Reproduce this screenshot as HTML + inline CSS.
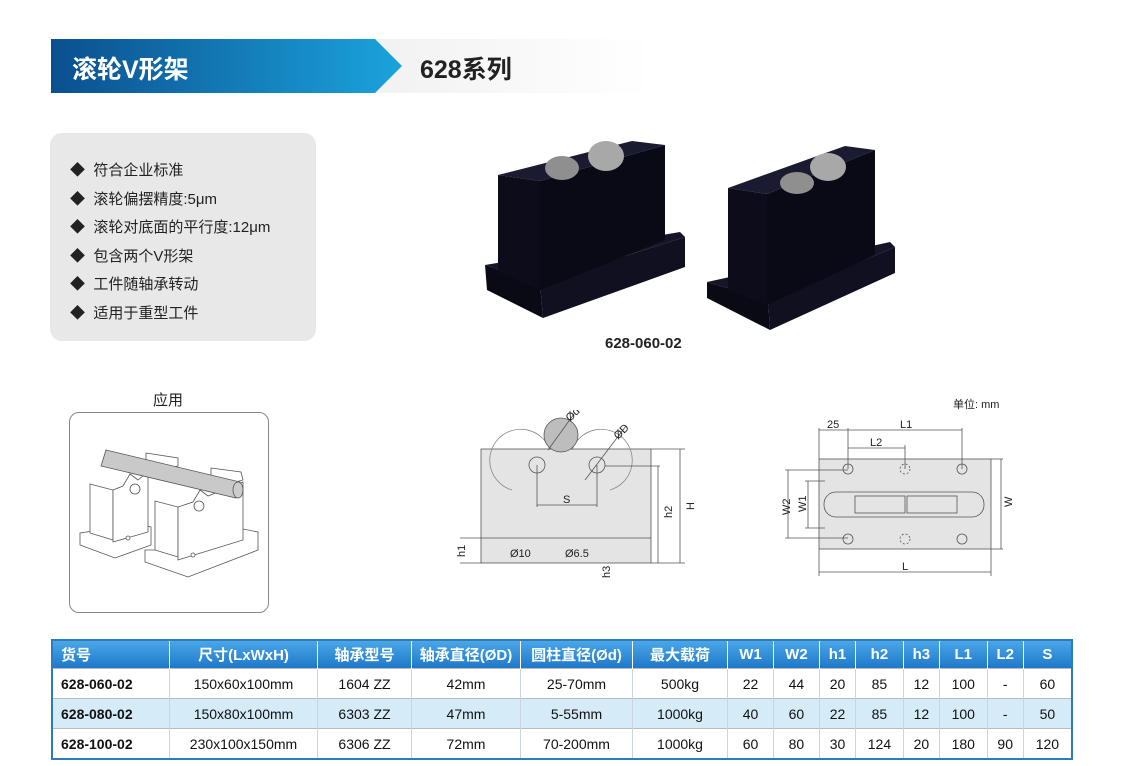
<!DOCTYPE html>
<html><head><meta charset="utf-8"><style>
body{margin:0;width:1130px;height:766px;background:#fff;position:relative;overflow:hidden;font-family:"Liberation Sans","Noto Sans CJK SC",sans-serif;}
.abs{position:absolute}
table{border-collapse:collapse;position:absolute;left:51px;top:639px;width:1022px;font-size:14px;border:2px solid #2a7bc0}
td{height:29px;text-align:center;border-left:1px solid #c9d6e2;padding:0;color:#111}
tr.h td{background:linear-gradient(#4aa7e8,#1f78c9);color:#fff;font-weight:bold;font-size:15px;height:27px;border-left:1px solid #fff}
tr.b td{background:#d5ebf8}
td.k{font-weight:bold;text-align:left;padding-left:8px}
tr+tr td{border-top:1px solid #bbb}
</style></head><body>
<div class="abs" style="left:51px;top:39px;width:600px;height:54px;background:linear-gradient(90deg,#e6e6e6,#f3f3f3 60%,#fff)"></div>
<svg class="abs" style="left:51px;top:39px" width="360" height="54"><defs><linearGradient id="g" x1="0" x2="1"><stop offset="0" stop-color="#0b4f8e"/><stop offset="1" stop-color="#1ba3dc"/></linearGradient></defs><polygon points="0,0 324,0 351,27 324,54 0,54" fill="url(#g)"/></svg>
<div class="abs" style="left:72px;top:50px;color:#fff;font-size:25px;font-weight:bold">滚轮V形架</div>
<div class="abs" style="left:420px;top:50px;color:#222;font-size:25px;font-weight:bold">628系列</div>

<div class="abs" style="left:50px;top:133px;width:266px;height:208px;background:#e8e8e8;border-radius:12px"></div>
<div class="abs" style="left:70px;top:157px;font-size:15px;line-height:28.5px;color:#222">
◆&nbsp; 符合企业标准<br>◆&nbsp; 滚轮偏摆精度:5μm<br>◆&nbsp; 滚轮对底面的平行度:12μm<br>◆&nbsp; 包含两个V形架<br>◆&nbsp; 工件随轴承转动<br>◆&nbsp; 适用于重型工件</div>

<svg class="abs" style="left:0;top:0" width="1130" height="360">
<g>
<polygon points="485,265 540,283 685,237 680,232" fill="#15152a"/>
<polygon points="485,265 540,283 543,318 487,290" fill="#0a0a14"/>
<polygon points="540,283 685,237 685,267 543,318" fill="#101020"/>
<polygon points="498,175 540,181 665,145 632,141" fill="#1a1a30"/>
<polygon points="498,175 540,181 540,290 498,272" fill="#0c0c1a"/>
<polygon points="540,181 665,145 665,240 540,290" fill="#0a0a16"/>
<polygon points="707,282 768,300 895,247 890,242" fill="#15152a"/>
<polygon points="707,282 768,300 770,330 707,298" fill="#0a0a14"/>
<polygon points="768,300 895,247 895,273 770,330" fill="#101020"/>
<polygon points="728,188 767,194 875,150 845,146" fill="#1a1a30"/>
<polygon points="728,188 767,194 767,305 728,290" fill="#0c0c1a"/>
<polygon points="767,194 875,150 875,255 767,305" fill="#0a0a16"/>
</g>
<ellipse cx="562" cy="168" rx="17" ry="12" fill="#8f8f8f"/><ellipse cx="606" cy="156" rx="18" ry="15" fill="#a8a8a8"/>
<ellipse cx="797" cy="183" rx="17" ry="11" fill="#8f8f8f"/><ellipse cx="828" cy="167" rx="18" ry="14" fill="#a8a8a8"/>
</svg>
<div class="abs" style="left:605px;top:335px;font-size:15px;font-weight:bold;color:#222">628-060-02</div>

<div class="abs" style="left:153px;top:389px;font-size:15px;color:#222">应用</div>
<div class="abs" style="left:69px;top:412px;width:198px;height:199px;border:1px solid #888;border-radius:10px"></div>
<svg class="abs" style="left:68px;top:410px" width="202" height="204" fill="#fff" stroke="#555" stroke-width="0.8">
<polygon points="78,43 110,48 110,56 95,60 78,52"/>
<polygon points="143,58 173,62 175,70 160,74 143,66"/>
<polygon points="12,123 12,135 47,148 83,135 83,117 60,112 45,118"/>
<polygon points="22,74 45,80 45,130 22,123"/>
<polygon points="45,80 55,76 62,64 70,70 80,62 80,122 45,132"/>
<polygon points="77,140 77,152 120,167 190,140 190,122 170,118 110,140"/>
<polygon points="87,91 110,97 110,147 87,140"/>
<polygon points="110,97 125,92 132,80 140,86 175,72 175,130 110,150"/>
<circle cx="67" cy="79" r="5"/><circle cx="131" cy="96" r="5"/>
<circle cx="60" cy="128" r="2"/><circle cx="125" cy="145" r="2"/>
<path d="M38,40 L172,72 L168,88 L33,56 Z" fill="#c9c9c9" stroke="#555"/>
<ellipse cx="170" cy="80" rx="5" ry="8" fill="#ccc"/>
</svg>

<div class="abs" style="left:953px;top:396px;font-size:11px;color:#222">单位: mm</div>
<svg class="abs" style="left:450px;top:410px" width="600" height="175" font-family="Liberation Sans" font-size="11" fill="#222">
<g stroke="#555" stroke-width="0.8" fill="none">
<rect x="31" y="39" width="170" height="114" fill="#e4e4e4"/>
<line x1="31" y1="128" x2="201" y2="128"/>
<path d="M62,80 A31,31 0 1 1 100,40" stroke="#888"/>
<path d="M122,40 A31,31 0 1 1 160,80" stroke="#888"/>
<circle cx="87" cy="55" r="8"/><circle cx="147" cy="55" r="8"/>
<circle cx="111" cy="25" r="17" fill="#bdbdbd"/>
<line x1="87" y1="55" x2="87" y2="97"/><line x1="147" y1="55" x2="147" y2="97"/><line x1="87" y1="95" x2="147" y2="95"/>
<line x1="155" y1="56" x2="210" y2="56"/><line x1="201" y1="39" x2="235" y2="39"/><line x1="201" y1="153" x2="235" y2="153"/>
<line x1="208" y1="56" x2="208" y2="153"/><line x1="230" y1="39" x2="230" y2="153"/>
<line x1="98" y1="40" x2="124" y2="4"/><line x1="135" y1="70" x2="176" y2="16"/>
<line x1="10" y1="128" x2="31" y2="128"/><line x1="10" y1="153" x2="31" y2="153"/>
</g>
<text x="120" y="12" transform="rotate(-45 120 12)">Ød</text><text x="168" y="30" transform="rotate(-45 168 30)">ØD</text>
<text x="113" y="93">S</text><text x="222" y="108" transform="rotate(-90 222 108)">h2</text><text x="244" y="100" transform="rotate(-90 244 100)">H</text>
<text x="60" y="147">Ø10</text><text x="115" y="147">Ø6.5</text><text x="15" y="147" transform="rotate(-90 15 147)">h1</text><text x="160" y="168" transform="rotate(-90 160 168)">h3</text>
<g stroke="#555" stroke-width="0.8" fill="none">
<rect x="369" y="49" width="172" height="90" fill="#e4e4e4"/>
<circle cx="398" cy="59" r="5"/><circle cx="455" cy="59" r="5" stroke-dasharray="2 2"/><circle cx="512" cy="59" r="5"/>
<circle cx="398" cy="129" r="5"/><circle cx="455" cy="129" r="5" stroke-dasharray="2 2"/><circle cx="512" cy="129" r="5"/>
<rect x="374" y="82" width="160" height="25" rx="12"/>
<rect x="405" y="86" width="50" height="17"/><rect x="457" y="86" width="50" height="17"/>
<line x1="369" y1="18" x2="369" y2="49"/><line x1="398" y1="18" x2="398" y2="59"/><line x1="512" y1="18" x2="512" y2="59"/><line x1="455" y1="35" x2="455" y2="59"/>
<line x1="369" y1="20" x2="512" y2="20"/><line x1="398" y1="38" x2="455" y2="38"/>
<line x1="335" y1="60" x2="398" y2="60"/><line x1="335" y1="128" x2="398" y2="128"/><line x1="338" y1="60" x2="338" y2="128"/>
<line x1="355" y1="71" x2="375" y2="71"/><line x1="355" y1="118" x2="375" y2="118"/><line x1="358" y1="71" x2="358" y2="118"/>
<line x1="541" y1="49" x2="553" y2="49"/><line x1="541" y1="139" x2="553" y2="139"/><line x1="551" y1="49" x2="551" y2="139"/>
<line x1="369" y1="139" x2="369" y2="166"/><line x1="541" y1="139" x2="541" y2="166"/><line x1="369" y1="162" x2="541" y2="162"/>
</g>
<text x="377" y="18">25</text><text x="450" y="18">L1</text><text x="420" y="36">L2</text>
<text x="340" y="105" transform="rotate(-90 340 105)">W2</text><text x="356" y="102" transform="rotate(-90 356 102)">W1</text>
<text x="562" y="97" transform="rotate(-90 562 97)">W</text><text x="452" y="160">L</text>
</svg>

<table>
<tr class="h"><td style="text-align:left;padding-left:8px;width:108px;border-left:none">货号</td><td style="width:147px">尺寸(LxWxH)</td><td style="width:93px">轴承型号</td><td style="width:108px">轴承直径(ØD)</td><td style="width:111px">圆柱直径(Ød)</td><td style="width:94px">最大载荷</td><td>W1</td><td>W2</td><td>h1</td><td>h2</td><td>h3</td><td>L1</td><td>L2</td><td>S</td></tr>
<tr><td class="k">628-060-02</td><td>150x60x100mm</td><td>1604 ZZ</td><td>42mm</td><td>25-70mm</td><td>500kg</td><td>22</td><td>44</td><td>20</td><td>85</td><td>12</td><td>100</td><td>-</td><td>60</td></tr>
<tr class="b"><td class="k">628-080-02</td><td>150x80x100mm</td><td>6303 ZZ</td><td>47mm</td><td>5-55mm</td><td>1000kg</td><td>40</td><td>60</td><td>22</td><td>85</td><td>12</td><td>100</td><td>-</td><td>50</td></tr>
<tr><td class="k">628-100-02</td><td>230x100x150mm</td><td>6306 ZZ</td><td>72mm</td><td>70-200mm</td><td>1000kg</td><td>60</td><td>80</td><td>30</td><td>124</td><td>20</td><td>180</td><td>90</td><td>120</td></tr>
</table>
</body></html>
